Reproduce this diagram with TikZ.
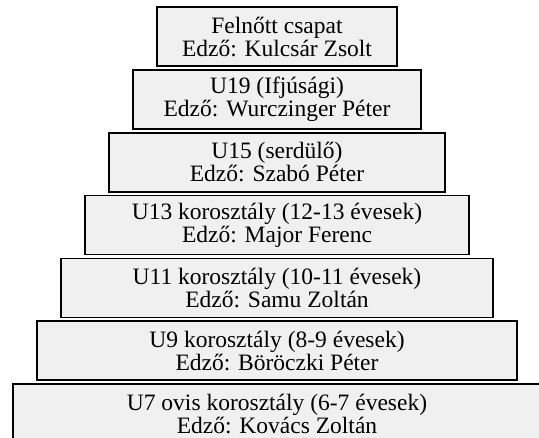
\documentclass[tikz,border=0pt]{standalone}
\usepackage{fontspec}
\setmainfont{Liberation Serif}
\definecolor{boxgray}{HTML}{F0F0F0}
\begin{document}
\begin{tikzpicture}[x=1pt,y=-1pt,
  tier/.style={draw=black, line width=1.6pt, fill=boxgray, align=center,
    minimum height=59pt, inner sep=0pt,
    font=\fontsize{23.5}{23}\selectfont}]
\useasboundingbox (0,0) rectangle (539,438);
\clip (0,0) rectangle (539,438);
\node[tier, minimum width=240pt] (t1) at (277,36.8) {Felnőtt csapat\\Edző: Kulcsár Zsolt};
\node[tier, minimum width=288pt] (t2) at (277,99.6) {U19 (Ifjúsági)\\Edző: Wurczinger Péter};
\node[tier, minimum width=336pt] (t3) at (277,162.4) {U15 (serdülő)\\Edző: Szabó Péter};
\node[tier, minimum width=384pt] (t4) at (277,225.2) {U13 korosztály (12-13 évesek)\\Edző: Major Ferenc};
\node[tier, minimum width=432pt] (t5) at (277,288) {U11 korosztály (10-11 évesek)\\Edző: Samu Zoltán};
\node[tier, minimum width=480pt] (t6) at (277,350.8) {U9 korosztály (8-9 évesek)\\Edző: Böröczki Péter};
\node[tier, minimum width=528pt] (t7) at (277,413.6) {U7 ovis korosztály (6-7 évesek)\\Edző: Kovács Zoltán};
\end{tikzpicture}
\end{document}
